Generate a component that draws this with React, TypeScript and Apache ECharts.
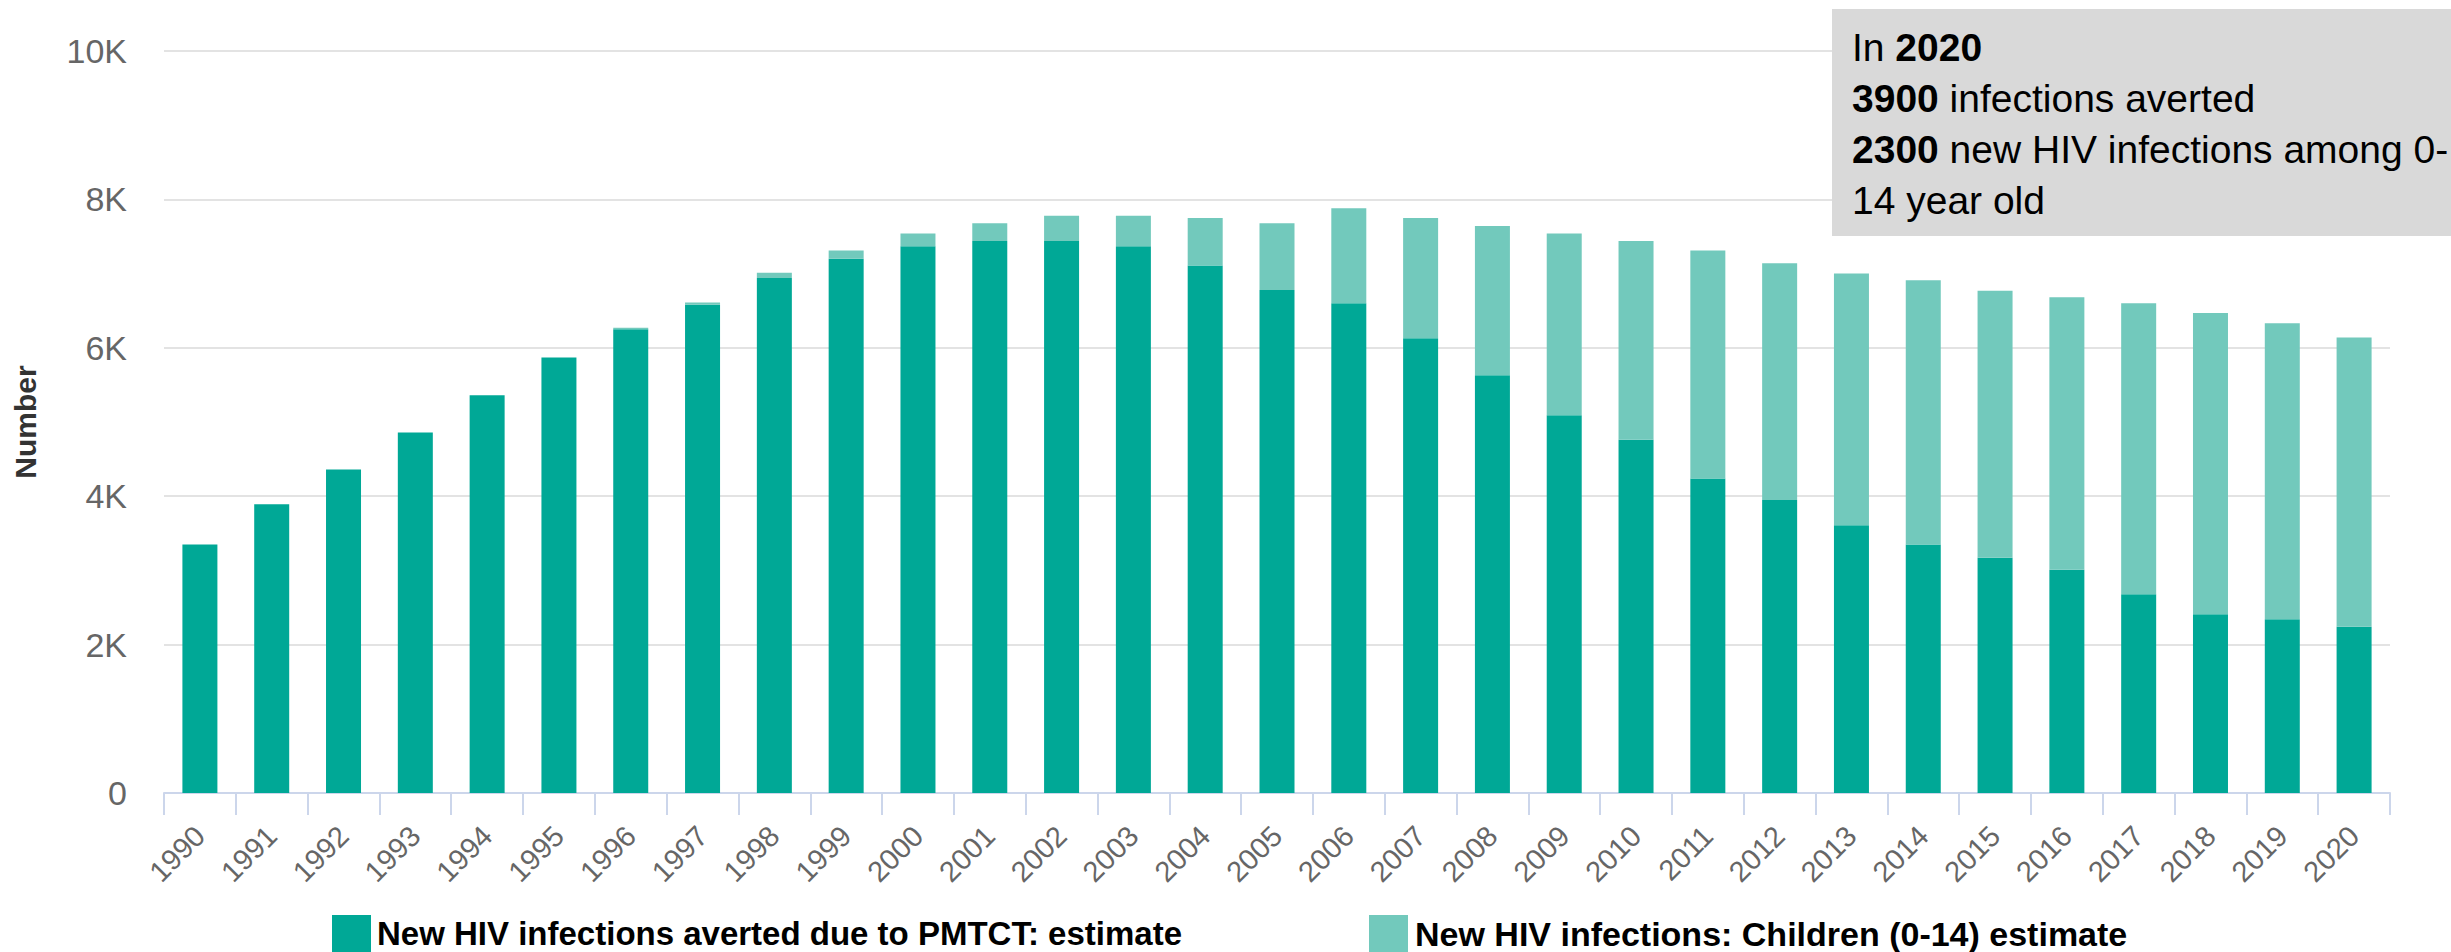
import React, { useEffect, useRef } from "react";
import * as echarts from "echarts";

const years = [
  "1990", "1991", "1992", "1993", "1994", "1995", "1996", "1997", "1998", "1999",
  "2000", "2001", "2002", "2003", "2004", "2005", "2006", "2007", "2008", "2009",
  "2010", "2011", "2012", "2013", "2014", "2015", "2016", "2017", "2018", "2019", "2020",
];

// dark (bottom) segment
const averted = [
  3350, 3890, 4360, 4860, 5360, 5870, 6250, 6580, 6940, 7200,
  7370, 7440, 7440, 7370, 7110, 6780, 6600, 6130, 5630, 5090,
  4760, 4240, 3950, 3610, 3350, 3170, 3010, 2680, 2410, 2340, 2240,
];

// light (top) segment
const children = [
  0, 0, 0, 0, 0, 0, 20, 30, 70, 110,
  170, 240, 340, 410, 640, 900, 1280, 1620, 2010, 2450,
  2680, 3070, 3190, 3390, 3560, 3600, 3670, 3920, 4060, 3990, 3900,
];

const yTicks = { min: 0, max: 10000, interval: 2000 };

const seriesNames = [
  "New HIV infections averted due to PMTCT: estimate",
  "New HIV infections: Children (0-14) estimate",
];

const noteLines = [
  ["In ", "2020", ""],
  ["", "3900", " infections averted"],
  ["", "2300", " new HIV infections among 0-"],
  ["14 year old", "", ""],
];

const DARK = "#00a896";
const LIGHT = "#72c9bc";
const SANS = "'Liberation Sans', Arial, sans-serif";

export default function App() {
  const ref = useRef<HTMLDivElement>(null);

  useEffect(() => {
    if (!ref.current) return;
    const chart = echarts.init(ref.current, undefined, { renderer: "svg" });

    const noteText = noteLines
      .map(([a, b, c]) => {
        let s = "";
        if (a) s += `{r|${a}}`;
        if (b) s += `{b|${b}}`;
        if (c) s += `{r|${c}}`;
        return s;
      })
      .join("\n");

    const legendText = { fontFamily: SANS, fontWeight: "bold", color: "#000" };

    chart.setOption({
      animation: false,
      backgroundColor: "#ffffff",
      grid: { left: 164, right: 61, top: 51, bottom: 159, containLabel: false },
      legend: [
        {
          data: [seriesNames[0]],
          left: 332,
          top: 915,
          itemWidth: 39,
          itemHeight: 37,
          icon: "rect",
          padding: 0,
          textStyle: { ...legendText, fontSize: 33, padding: [4, 0, 0, 1] },
          selectedMode: false,
        },
        {
          data: [seriesNames[1]],
          left: 1369,
          top: 915,
          itemWidth: 39,
          itemHeight: 37,
          icon: "rect",
          padding: 0,
          textStyle: { ...legendText, fontSize: 34, padding: [4, 0, 0, 2] },
          selectedMode: false,
        },
      ],
      xAxis: {
        type: "category",
        data: years,
        boundaryGap: true,
        axisLine: { lineStyle: { color: "#ccd6eb", width: 2 } },
        axisTick: { show: true, length: 22, lineStyle: { color: "#ccd6eb", width: 2 } },
        axisLabel: {
          rotate: 45,
          fontSize: 29,
          color: "#666666",
          fontFamily: SANS,
          margin: 38,
          interval: 0,
        },
      },
      yAxis: {
        type: "value",
        min: yTicks.min,
        max: yTicks.max,
        interval: yTicks.interval,
        name: "Number",
        nameLocation: "middle",
        nameRotate: 90,
        nameGap: 124,
        nameTextStyle: { fontFamily: SANS, fontWeight: "bold", fontSize: 30, color: "#333333" },
        axisLine: { show: false },
        axisTick: { show: false },
        splitLine: { lineStyle: { color: "#e3e3e3", width: 2 } },
        axisLabel: {
          fontSize: 34,
          color: "#666666",
          fontFamily: SANS,
          margin: 37,
          formatter: (v: number) => (v === 0 ? "0" : `${v / 1000}K`),
        },
      },
      series: [
        {
          name: seriesNames[0],
          type: "bar",
          stack: "total",
          data: averted,
          barWidth: 35,
          itemStyle: { color: DARK },
        },
        {
          name: seriesNames[1],
          type: "bar",
          stack: "total",
          data: children,
          barWidth: 35,
          itemStyle: { color: LIGHT },
        },
      ],
      graphic: [
        {
          type: "rect",
          left: 1832,
          top: 9,
          shape: { width: 619, height: 227 },
          style: { fill: "#d9d9d9" },
          z: 10,
        },
        {
          type: "text",
          left: 1852,
          top: 28,
          z: 11,
          style: {
            text: noteText,
            rich: {
              r: { fontFamily: SANS, fontSize: 39, color: "#000", lineHeight: 51 },
              b: { fontFamily: SANS, fontSize: 39, fontWeight: "bold", color: "#000", lineHeight: 51 },
            },
          },
        },
      ],
    });

    return () => chart.dispose();
  }, []);

  return (
    <div
      ref={ref}
      style={{ position: "fixed", left: 0, top: 0, width: 2451, height: 952 }}
    />
  );
}
